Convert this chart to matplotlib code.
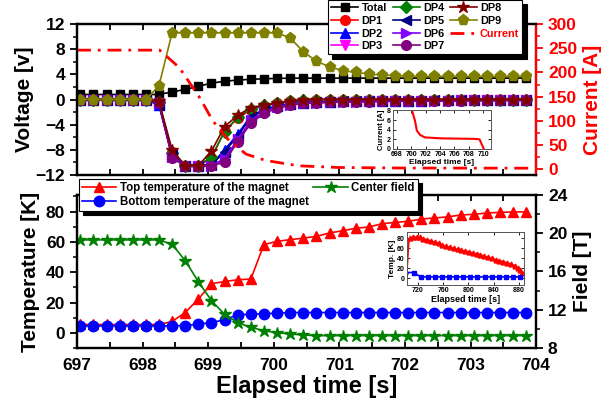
import numpy as np
import matplotlib.pyplot as plt
from matplotlib.ticker import MultipleLocator

plt.rcParams['font.family'] = ['Liberation Sans', 'DejaVu Sans']
plt.rcParams['font.weight'] = 'bold'
plt.rcParams['axes.labelweight'] = 'bold'

# sample times of the voltage / temperature data (0.2 s steps)
t = np.arange(697.05, 703.9, 0.2)

# top panel: voltages [V]
total = [0.8]*7 + [1.2, 1.6, 2.1, 2.6, 2.9, 3.1, 3.2, 3.3, 3.35] + [3.4]*19
dp1 = [0.0]*6 + [-0.5, -8.3, -10.5, -10.5, -9.3, -5.0, -3.0, -1.6, -1.0, -0.6, -0.3, -0.2] + [0.0]*17
dp2 = [0.0]*6 + [-0.9, -9.0, -10.5, -10.5, -10.3, -8.0, -5.5, -2.6, -1.6, -1.0, -0.7, -0.5] + \
      [-0.4, -0.35, -0.3, -0.3, -0.25, -0.25, -0.2, -0.2, -0.2, -0.15, -0.15, -0.15, -0.1, -0.1, -0.1, -0.1, -0.1]
dp3 = [0.0]*6 + [-0.6, -9.2, -10.6, -10.6, -10.5, -9.6, -6.5, -3.5, -2.0, -1.3, -0.9, -0.6] + \
      [-0.5, -0.45, -0.4, -0.35, -0.3, -0.3, -0.25, -0.25, -0.2, -0.2, -0.2, -0.15, -0.15, -0.15, -0.1, -0.1, -0.1]
dp4 = [0.0]*6 + [-0.4, -8.5, -10.5, -10.5, -9.1, -5.1, -2.8, -1.5, -0.9, -0.5, -0.3, -0.1] + [0.0]*17
dp5 = [0.0]*6 + [-0.8, -8.8, -10.5, -10.5, -10.4, -8.3, -5.8, -2.8, -1.7, -1.0, -0.7, -0.5] + \
      [-0.4, -0.35, -0.3, -0.3, -0.25, -0.25, -0.2, -0.2, -0.2, -0.15, -0.15, -0.15, -0.1, -0.1, -0.1, -0.1, -0.1]
dp6 = [0.0]*6 + [-0.6, -9.1, -10.5, -10.5, -10.5, -9.4, -6.3, -3.3, -2.0, -1.2, -0.8, -0.6] + \
      [-0.5, -0.45, -0.4, -0.35, -0.3, -0.3, -0.25, -0.25, -0.2, -0.2, -0.2, -0.15, -0.15, -0.15, -0.1, -0.1, -0.1]
dp7 = [0.0]*6 + [-0.5, -9.3, -10.6, -10.6, -10.6, -9.9, -6.7, -3.8, -2.2, -1.4, -0.9, -0.6] + \
      [-0.5, -0.45, -0.4, -0.4, -0.35, -0.3, -0.3, -0.25, -0.25, -0.2, -0.2, -0.2, -0.15, -0.15, -0.15, -0.1, -0.1]
dp8 = [0.0]*6 + [-0.3, -8.0, -10.5, -10.5, -8.2, -4.3, -2.5, -1.3, -0.9, -0.6, -0.3, -0.1] + [0.0]*17
dp9 = [0.0]*6 + [2.2] + [10.6]*9 + [9.8, 7.6, 6.1, 5.2, 4.6, 4.3, 4.05, 3.9, 3.8] + [3.7]*10

# current [A]
t_cur = [697.0, 698.26, 698.56, 698.87, 699.07, 699.32, 699.58, 699.88, 700.38, 701.0, 702.0, 704.0]
cur = [246, 246, 210, 148, 100, 59, 31, 18, 7, 3.5, 2.4, 2.1]

# bottom panel
top_temp = [5.5]*7 + [7.5, 13.4, 22.3, 32.4, 33.9, 35.0, 35.5, 58.2, 60.4, 61.5, 62.5, 63.7, 65.9, 67.4,
                      69.0, 69.9, 72.0, 72.9, 73.6, 75.1, 75.8, 76.5, 77.8, 78.2, 79.1, 79.5, 79.8, 79.8]
bot_temp = [4.6]*8 + [4.8, 5.7, 6.8, 8.6, 11.9, 12.3, 12.6, 13.0, 13.4] + [13.4]*18
field = [19.3]*7 + [18.84, 17.13, 14.94, 12.95, 11.52, 10.65, 10.16, 9.81, 9.6, 9.46, 9.36] + [9.29]*17

# inset 1: current tail
t_in1 = [700.1, 700.3, 700.5, 700.77, 701.23, 701.9, 704.2, 706.5, 708.8, 709.5, 709.8, 710.1]
cur_in1 = [8.0, 6.9, 5.9, 3.8, 2.9, 2.4, 2.2, 2.15, 2.1, 2.0, 1.0, 0.0]

# inset 2: long-time temperatures
t_in2_top = [703, 705.5, 708, 713, 718, 723, 729, 735, 741, 747, 753, 759, 765, 771, 777, 783, 789,
             795, 801, 807, 813, 819, 825, 831, 837, 843, 849, 855, 861, 867, 873, 878, 881, 884]
top_in2 = [15, 70, 80, 82, 83, 82, 79, 77, 75, 72.5, 70, 66, 64, 62, 60, 58, 56.5,
           54.5, 53, 51, 49, 47, 44.5, 42, 40, 37.5, 35.5, 33.5, 31, 28.5, 25.5, 21, 16, 10]
t_in2_bot = [703, 705, 713.6, 724.8, 736, 747, 758, 769.5, 780.7, 792, 803, 814, 825.5, 836.7, 848,
             859, 870, 881.5]
bot_in2 = [5, 12, 11.5, 3, 3, 3, 3, 3, 3, 3, 3, 3, 3, 3, 3, 3, 3, 3]

fig = plt.figure(figsize=(6.13, 4.07), dpi=100)
ax1 = fig.add_axes([0.1256, 0.570, 0.749, 0.371])
ax2 = fig.add_axes([0.1256, 0.145, 0.749, 0.376])

dps = [
    ("Total", total, 'k', 's', 6),
    ("DP1", dp1, '#FF0000', 'o', 7),
    ("DP2", dp2, '#0000FF', '^', 7),
    ("DP3", dp3, '#FF00FF', 'v', 7),
    ("DP4", dp4, '#008000', 'D', 6),
    ("DP5", dp5, '#000080', '<', 7),
    ("DP6", dp6, '#8000FF', '>', 7),
    ("DP7", dp7, '#800080', 'o', 7),
    ("DP8", dp8, '#800000', '*', 9),
    ("DP9", dp9, '#808000', 'p', 8),
]
handles = []
for name, vals, c, m, ms in dps:
    h, = ax1.plot(t, vals, color=c, marker=m, markersize=ms, lw=1.2, label=name)
    handles.append(h)

ax1r = ax1.twinx()
hc, = ax1r.plot(t_cur, cur, color='red', lw=2, ls=(0, (5, 2.5, 1, 2.5)), label="Current")
handles.append(hc)

ax1.set_xlim(697, 704)
ax1.set_ylim(-12, 12)
ax1r.set_ylim(-12, 300)
ax1.set_ylabel("Voltage [v]", fontsize=15, labelpad=1)
ax1r.set_ylabel("Current [A]", fontsize=15, color='red')
ax1.yaxis.set_major_locator(MultipleLocator(4))
ax1.yaxis.set_minor_locator(MultipleLocator(2))
ax1r.yaxis.set_major_locator(MultipleLocator(50))
ax1r.yaxis.set_minor_locator(MultipleLocator(25))

h_top, = ax2.plot(t, top_temp, color='#FF0000', marker='^', markersize=7.5, lw=1.2,
                  label="Top temperature of the magnet")
h_bot, = ax2.plot(t, bot_temp, color='#0000FF', marker='o', markersize=7.5, lw=1.2,
                  label="Bottom temperature of the magnet")
ax2r = ax2.twinx()
h_fld, = ax2r.plot(t, field, color='#008000', marker='*', markersize=9, lw=1.2, label="Center field")

ax2.set_xlim(697, 704)
ax2.set_ylim(-10, 91)
ax2r.set_ylim(8, 24)
ax2.set_xlabel("Elapsed time [s]", fontsize=17, labelpad=2)
ax2.set_ylabel("Temperature [K]", fontsize=15)
ax2r.set_ylabel("Field [T]", fontsize=15)
ax2.yaxis.set_major_locator(MultipleLocator(20))
ax2.yaxis.set_minor_locator(MultipleLocator(10))
ax2r.yaxis.set_major_locator(MultipleLocator(4))
ax2r.yaxis.set_minor_locator(MultipleLocator(2))

for ax in (ax1, ax2):
    ax.xaxis.set_major_locator(MultipleLocator(1))
    ax.xaxis.set_minor_locator(MultipleLocator(0.5))
    ax.tick_params(axis='x', which='both', direction='in', top=True, bottom=True,
                   length=4, width=1.3, labelsize=12.5, pad=7)
    ax.tick_params(axis='y', which='major', direction='out', length=5, width=1.3, labelsize=12.5)
    ax.tick_params(axis='y', which='minor', direction='out', length=3, width=1.1)
ax1.tick_params(axis='x', labelbottom=False)
for ax in (ax1r, ax2r):
    ax.tick_params(axis='y', which='major', direction='out', length=5, width=1.3, labelsize=12.5)
    ax.tick_params(axis='y', which='minor', direction='out', length=3, width=1.1)
for ax in (ax1, ax2, ax1r, ax2r):
    for s in ax.spines.values():
        s.set_linewidth(1.6)
ax1r.spines['right'].set_color('red')
ax1r.tick_params(axis='y', which='both', colors='red')

shadow = {'ox': 3, 'oy': -3, 'facecolor': 'k', 'edgecolor': 'k', 'alpha': 1}
leg1 = ax1r.legend(handles=handles, ncol=3, loc='upper left', bbox_to_anchor=(0.547, 1.16),
                   borderaxespad=0, handlelength=2.5, handletextpad=0.3,
                   columnspacing=0.5, labelspacing=0.25, borderpad=0.3, numpoints=1,
                   fancybox=False, framealpha=1, edgecolor='k', shadow=shadow,
                   prop={'weight': 'bold', 'size': 7.8})
leg1.get_frame().set_linewidth(0.8)
leg1.get_texts()[-1].set_color('red')

leg2 = ax2r.legend(handles=[h_top, h_bot, h_fld], ncol=2, loc='upper left',
                   bbox_to_anchor=(0.004, 1.105), borderaxespad=0, handlelength=3,
                   handletextpad=0.3, columnspacing=0.4, labelspacing=0.2, borderpad=0.25,
                   numpoints=1, fancybox=False, framealpha=1, edgecolor='k', shadow=shadow,
                   prop={'weight': 'bold', 'size': 8.3})
leg2.get_frame().set_linewidth(0.8)

# inset 1: current
ins1 = fig.add_axes([0.6406, 0.634, 0.1604, 0.0958])
ins1.plot(t_in1, cur_in1, color='red', lw=1.5)
ins1.set_xlim(697.4, 711.1)
ins1.set_ylim(0, 8.1)
ins1.xaxis.set_major_locator(MultipleLocator(2))
ins1.yaxis.set_major_locator(MultipleLocator(2))
ins1.set_xlabel("Elapsed time [s]", fontsize=6, labelpad=1)
ins1.set_ylabel("Current [A]", fontsize=5.5, labelpad=1)
ins1.tick_params(direction='in', top=True, right=True, length=2, width=0.6, labelsize=5, pad=1.5)
for s in ins1.spines.values():
    s.set_linewidth(0.7)
    s.set_color('#555555')

# inset 2: temperatures
ins2 = fig.add_axes([0.664, 0.300, 0.191, 0.130])
ins2.plot(t_in2_top, top_in2, color='#FF0000', marker='^', markersize=3.5, lw=1.2, markevery=slice(2, None))
ins2.plot(t_in2_bot, bot_in2, color='#0000FF', marker='s', markersize=3.5, lw=1.2, markevery=slice(2, None))
ins2.set_xlim(703, 888)
ins2.set_ylim(-13, 93)
ins2.xaxis.set_major_locator(MultipleLocator(40))
ins2.yaxis.set_major_locator(MultipleLocator(20))
ins2.set_xlabel("Elapsed time [s]", fontsize=6.5, labelpad=1)
ins2.set_ylabel("Temp. [K]", fontsize=6, labelpad=1)
ins2.tick_params(direction='in', top=True, right=True, length=2, width=0.6, labelsize=5, pad=1.5)
for s in ins2.spines.values():
    s.set_linewidth(0.7)
    s.set_color('#555555')

fig.savefig("out.png", dpi=100)
